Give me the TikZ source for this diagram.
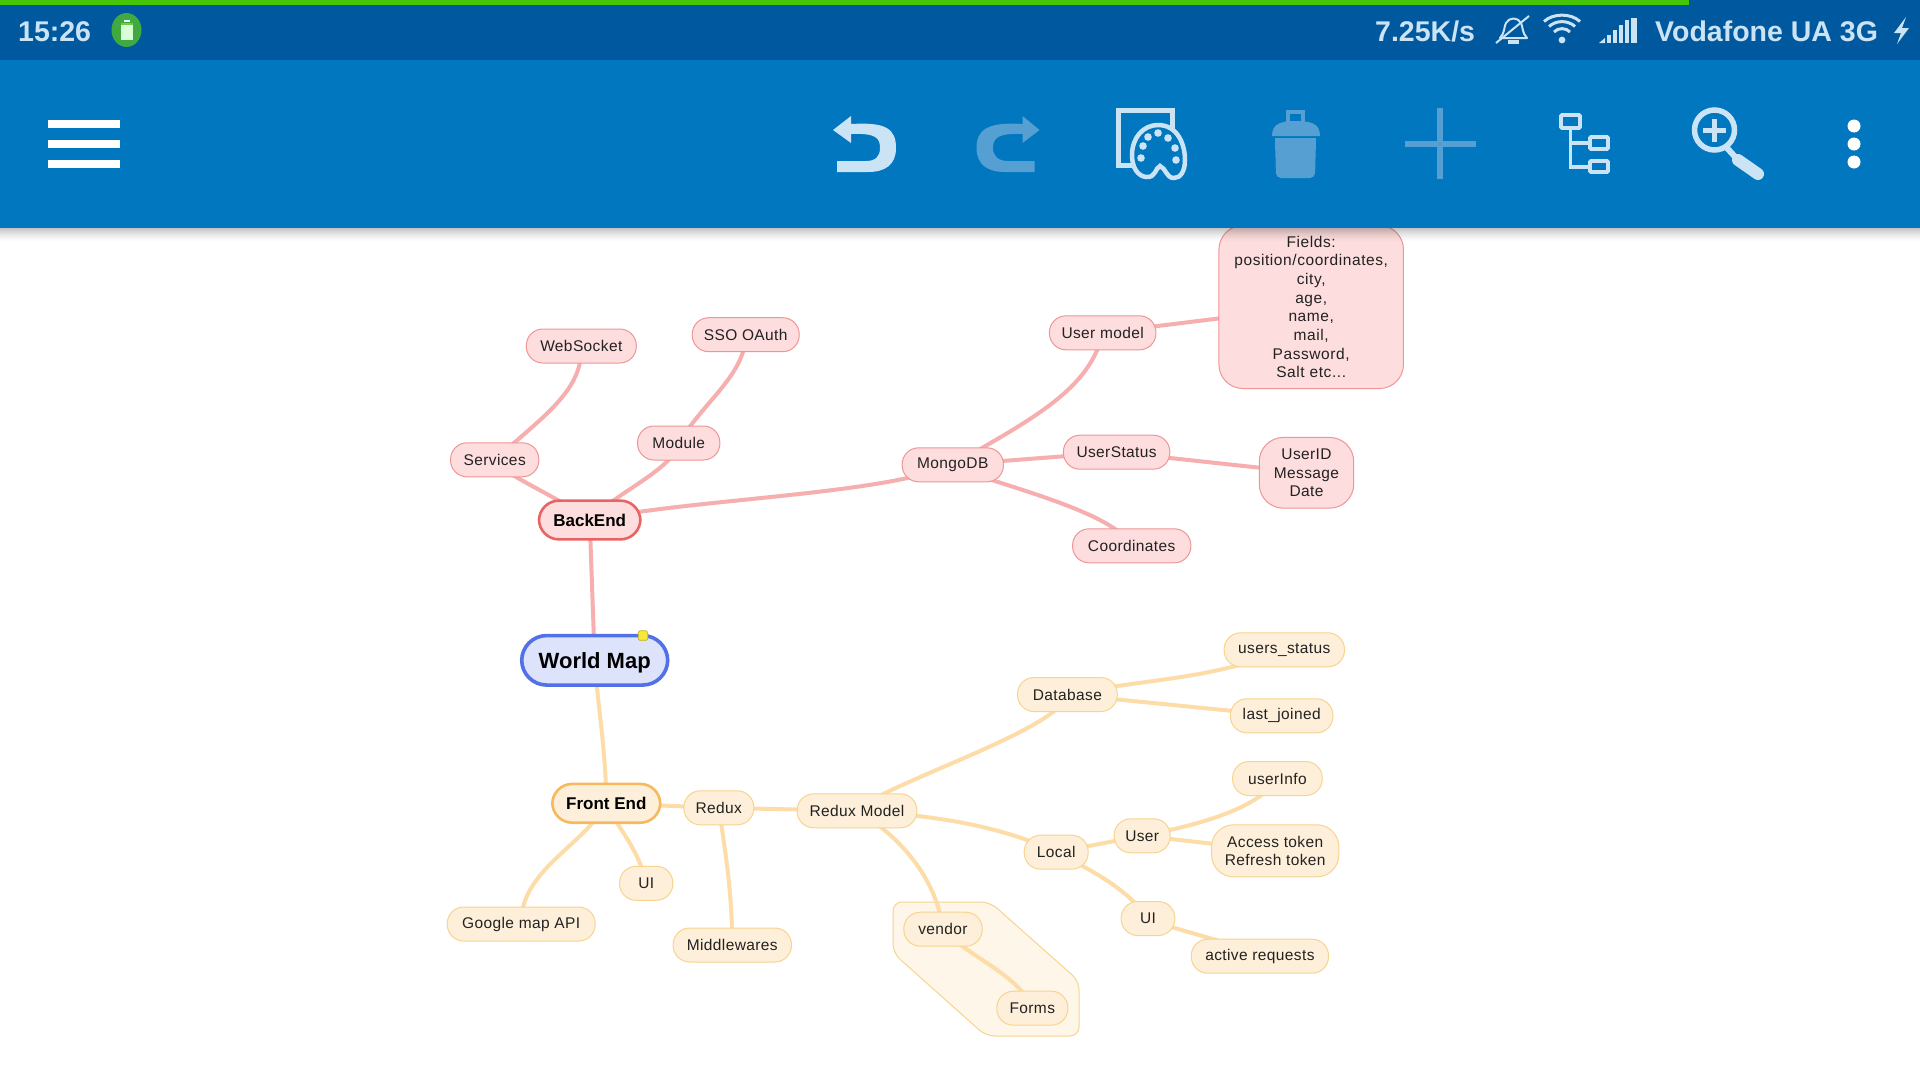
\documentclass[tikz,border=0pt]{standalone}
\usepackage{fontspec}
\setmainfont{Liberation Sans}
\pgfdeclarelayer{bg}
\pgfdeclarelayer{top}
\pgfsetlayers{bg,main,top}
\definecolor{pkfill}{HTML}{FDDDDD}
\definecolor{pkline}{HTML}{EE9696}
\definecolor{pkedge}{HTML}{F6AEAE}
\definecolor{pkbold}{HTML}{E86464}
\definecolor{orfill}{HTML}{FDEFD9}
\definecolor{orline}{HTML}{F8D48E}
\definecolor{oredge}{HTML}{FDDCA8}
\definecolor{orbold}{HTML}{F7B95E}
\definecolor{grfill}{HTML}{FEF6E8}
\definecolor{blfill}{HTML}{DCE3FB}
\definecolor{blbold}{HTML}{5271E8}
\definecolor{statusbar}{HTML}{00589E}
\definecolor{toolbar}{HTML}{0077BE}
\definecolor{iconlight}{HTML}{CBE4F5}
\definecolor{icondim}{HTML}{559FD3}
\definecolor{barfill}{HTML}{46C408}
\definecolor{handle}{HTML}{F7E83A}
\definecolor{handleline}{HTML}{C2B020}
\definecolor{ink}{HTML}{222222}
\tikzset{
  x=1pt,y=-1pt,
  pill/.style={draw,rounded corners=16.5pt,inner sep=0pt,outer sep=0pt,line width=1pt,text=ink,align=center,
     minimum height=34pt,font=\fontsize{15.5}{18.7}\selectfont\addfontfeature{LetterSpace=2.5}},
  pink/.style={pill,fill=pkfill,draw=pkline},
  orange/.style={pill,fill=orfill,draw=orline},
  pinkbold/.style={pink,draw=pkbold,line width=2.6pt,rounded corners=20pt,minimum height=38.8pt,font=\fontsize{17}{20}\bfseries\selectfont,text=black},
  orangebold/.style={orange,draw=orbold,line width=2.6pt,rounded corners=20pt,minimum height=38.8pt,font=\fontsize{17}{20}\bfseries\selectfont,text=black},
  pinkedge/.style={draw=pkedge,line width=4pt},
  orangeedge/.style={draw=oredge,line width=4pt},
  statustext/.style={inner sep=0pt,anchor=base west,text=iconlight,font=\fontsize{28.5}{32}\bfseries\selectfont},
}
\begin{document}
\begin{tikzpicture}
\useasboundingbox (0,0) rectangle (1920,1080);

% ---- root
\node[pill,fill=blfill,draw=blbold,line width=3.6pt,rounded corners=25pt,minimum width=146pt,minimum height=49.5pt,
      text depth=0pt,font=\fontsize{22}{26}\bfseries\selectfont,text=black] (wm) at (594.7,660.3) {World Map};
\node[fill=handle,draw=handleline,line width=.7pt,minimum size=9.5pt,inner sep=0pt,rounded corners=1.5pt] (hnd) at (643,635.5) {};

% ---- back end
\node[pinkbold,minimum width=101.4pt] (be) at (589.7,520) {BackEnd};
\node[pink,minimum width=110pt] (ws) at (581.3,346) {WebSocket};
\node[pink,minimum width=107pt] (sso) at (745.7,334.7) {SSO OAuth};
\node[pink,minimum width=88.3pt] (svc) at (494.7,459.8) {Services};
\node[pink,minimum width=82.3pt] (mod) at (678.7,443) {Module};
\node[pink,minimum width=101.3pt] (mdb) at (952.8,464.8) {MongoDB};
\node[pink,minimum width=106.5pt] (um) at (1102.7,332.8) {User model};
\node[pink,minimum width=106.4pt] (us) at (1116.6,452.2) {UserStatus};
\node[pink,minimum width=118.3pt] (crd) at (1131.7,545.8) {Coordinates};
\node[pink,minimum width=184.5pt,minimum height=163pt,rounded corners=24pt,
      font=\fontsize{15.5}{18.7}\selectfont\addfontfeature{LetterSpace=3.7}] (fld) at (1311.2,307)
  {Fields:\\position/coordinates,\\city,\\age,\\name,\\mail,\\Password,\\Salt etc...};
\node[pink,minimum width=94.4pt,minimum height=70.7pt,rounded corners=24pt] (uid) at (1306.5,472.8) {UserID\\Message\\Date};

% ---- front end
\node[orangebold,minimum width=108pt] (fe) at (606.3,803.3) {Front End};
\node[orange,minimum width=70pt] (rdx) at (718.8,807.8) {Redux};
\node[orange,minimum width=53.3pt] (uia) at (646.2,883.3) {UI};
\node[orange,minimum width=148pt] (gm) at (521.2,924) {Google map API};
\node[orange,minimum width=118.3pt] (mw) at (732.3,945) {Middlewares};
\node[orange,minimum width=119.7pt] (rm) at (857,810.8) {Redux Model};
\node[orange,minimum width=78.4pt] (ven) at (943,929.2) {vendor};
\node[orange,minimum width=71pt] (frm) at (1032.3,1008.2) {Forms};
\node[orange,minimum width=99.8pt] (db) at (1067.4,694.5) {Database};
\node[orange,minimum width=120.4pt] (ust) at (1284.3,649.8) {users\_status};
\node[orange,minimum width=102.6pt] (lj) at (1281.7,715.8) {last\_joined};
\node[orange,minimum width=89.7pt] (uin) at (1277.4,778.5) {userInfo};
\node[orange,minimum width=64pt] (lc) at (1056.2,852.2) {Local};
\node[orange,minimum width=56pt] (usr) at (1142.2,835.8) {User};
\node[orange,minimum width=127.3pt,minimum height=52pt,rounded corners=22pt] (acc) at (1275.2,850.8) {Access token\\Refresh token};
\node[orange,minimum width=53.6pt] (uib) at (1148,918.5) {UI};
\node[orange,minimum width=137.3pt] (act) at (1259.9,956.2) {active requests};

\begin{pgfonlayer}{bg}
  \fill[white] (0,0) rectangle (1920,1080);
  % group around vendor and Forms
  \draw[fill=grfill,draw=orline,line width=1pt,rounded corners=9pt]
     (893,902) -- (990,902) -- (1079,981) -- (1079,1036) -- (986,1036) -- (893,953) -- cycle;
  % pink connectors
  \draw[pinkedge] (be.center) -- (wm.center);
  \draw[pinkedge] (ws.center) .. controls (583,390) and (545,415) .. (svc.center);
  \draw[pinkedge] (svc.center) .. controls (500,473) and (555,495) .. (be.center);
  \draw[pinkedge] (sso.center) .. controls (745,375) and (705,400) .. (mod.center);
  \draw[pinkedge] (mod.center) .. controls (672,470) and (620,490) .. (be.center);
  \draw[pinkedge] (be.center) .. controls (700,498) and (880,495) .. (mdb.center);
  \draw[pinkedge] (mdb.center) .. controls (1030,420) and (1090,390) .. (um.center);
  \draw[pinkedge] (um.center) -- (fld.center);
  \draw[pinkedge] (mdb.center) -- (us.center);
  \draw[pinkedge] (us.center) -- (uid.center);
  \draw[pinkedge] (mdb.center) .. controls (975,480) and (1112,508) .. (crd.center);
  % orange connectors
  \draw[orangeedge] (wm.center) .. controls (597,700) and (606,750) .. (fe.center);
  \draw[orangeedge] (fe.center) -- (rdx.center);
  \draw[orangeedge] (rdx.center) -- (rm.center);
  \draw[orangeedge] (rdx.center) .. controls (725,850) and (732,890) .. (mw.center);
  \draw[orangeedge] (fe.center) .. controls (612,820) and (640,850) .. (uia.center);
  \draw[orangeedge] (fe.center) .. controls (585,845) and (520,870) .. (gm.center);
  \draw[orangeedge] (rm.center) .. controls (880,785) and (1060,730) .. (db.center);
  \draw[orangeedge] (db.center) .. controls (1150,678) and (1210,680) .. (ust.center);
  \draw[orangeedge] (db.center) -- (lj.center);
  \draw[orangeedge] (rm.center) .. controls (930,815) and (1000,825) .. (lc.center);
  \draw[orangeedge] (lc.center) -- (usr.center);
  \draw[orangeedge] (usr.center) .. controls (1170,830) and (1255,815) .. (uin.center);
  \draw[orangeedge] (usr.center) -- (acc.center);
  \draw[orangeedge] (lc.center) .. controls (1080,865) and (1125,885) .. (uib.center);
  \draw[orangeedge] (uib.center) .. controls (1180,932) and (1220,938) .. (act.center);
  \draw[orangeedge] (rm.center) .. controls (890,830) and (935,870) .. (ven.center);
  \draw[orangeedge] (ven.center) .. controls (965,955) and (1020,975) .. (frm.center);
\end{pgfonlayer}

\begin{pgfonlayer}{top}
  % shadow below the toolbar
  \foreach \i in {0,...,13}{
    \pgfmathsetmacro{\op}{0.24*(1-\i/14)^1.6}
    \fill[black,fill opacity=\op] (0,228+\i) rectangle (1920,229+\i);
  }
  % bars
  \fill[toolbar] (0,60) rectangle (1920,228);
  \fill[statusbar] (0,0) rectangle (1920,60);
  \fill[barfill] (0,0) rectangle (1689,5);

  % status bar
  \node[statustext] (clock) at (18,41.5) {15:26};
  \fill[green!55!black!75!white] (126.5,30) ellipse (15 and 17);
  \fill[white!85!green] (121,23) rectangle (132.5,40);
  \fill[barfill!80!white] (121,23) rectangle (132.5,25);
  \fill[white] (124,19.5) rectangle (129.5,21.5);
  \node[statustext] (speed) at (1375,41.5) {7.25K/s};
  \node[statustext] (carrier) at (1655,41.5) {Vodafone UA 3G};
  % bell
  \draw[iconlight,line width=2pt,line join=round] (1500,38) .. controls (1505,33) and (1504,26) .. (1506,23) .. controls (1509,17) and (1518,17) .. (1521,23) .. controls (1523,27) and (1522,33) .. (1527,38) -- cycle;
  \draw[iconlight,line width=2pt] (1496,43) -- (1529,16);
  \fill[iconlight] (1508,40) rectangle (1519,44);
  % wifi
  \fill[iconlight] (1562,40) circle (3.4);
  \draw[iconlight,line width=3pt] (1554,32) .. controls (1558,27.5) and (1566,27.5) .. (1570,32);
  \draw[iconlight,line width=3pt] (1549,26.5) .. controls (1556,20) and (1568,20) .. (1575,26.5);
  \draw[iconlight,line width=3pt] (1544,21.5) .. controls (1553,13) and (1571,13) .. (1580,21.5);
  % signal
  \fill[iconlight] (1599,43) -- (1605,38) -- (1605,43) -- cycle;
  \fill[iconlight] (1607,35) rectangle (1611,43);
  \fill[iconlight] (1613,30) rectangle (1617,43);
  \fill[iconlight] (1619,25) rectangle (1623,43);
  \fill[iconlight] (1625,20) rectangle (1629,43);
  \fill[iconlight] (1631,18) rectangle (1637,43);
  % bolt
  \fill[iconlight] (1906,17) -- (1894,33) -- (1901,33) -- (1897,44) -- (1909,28) -- (1902,28) -- cycle;

  % hamburger
  \foreach \yy in {120,140,160} \fill[white] (47.8,\yy) rectangle (120,\yy+8);
  % undo
  \fill[iconlight] (833,130) -- (851,116) -- (851,124) .. controls (885,122) and (896,128) .. (896,148)
      .. controls (896,165) and (885,172) .. (868,172) -- (837,172) -- (837,161) -- (866,161)
      .. controls (876,161) and (880,156) .. (880,148) .. controls (880,138) and (876,133) .. (851,134) -- (851,143) -- cycle;
  % redo
  \fill[icondim] (1039.6,130) -- (1022.5,116) -- (1022.5,124) .. controls (990,122) and (976.5,128) .. (976.5,148)
      .. controls (976.5,165) and (988,172) .. (1005,172) -- (1034.7,172) -- (1034.7,161) -- (1008,161)
      .. controls (998,161) and (993,156) .. (993,148) .. controls (993,138) and (998,133) .. (1022.5,134) -- (1022.5,143) -- cycle;
  % palette
  \draw[iconlight,line width=5pt] (1118.5,110.5) rectangle (1172,165.5);
  \draw[iconlight,fill=toolbar,line width=4.5pt] (1158,125) .. controls (1178,125) and (1185,145) .. (1185,160)
      .. controls (1185,172) and (1180,178) .. (1174,178) .. controls (1166,178) and (1166,168) .. (1160,166)
      .. controls (1155,168) and (1156,178) .. (1146,177) .. controls (1138,176) and (1132,168) .. (1132,155)
      .. controls (1132,138) and (1143,125) .. (1158,125) -- cycle;
  \foreach \cx/\cy in {1143/146,1148/137,1158/133,1168/138,1175/148,1176/160,1141/158}
     \fill[iconlight] (\cx,\cy) circle (3.8);
  % trash
  \draw[icondim,line width=3.5pt] (1288,122) -- (1288,112) -- (1303,112) -- (1303,122);
  \fill[icondim] (1272,136) .. controls (1272,124) and (1280,121) .. (1296,121) .. controls (1312,121) and (1320,124) .. (1320,136) -- cycle;
  \fill[icondim,rounded corners=5pt] (1275,138) -- (1316,138) -- (1315,178) -- (1276,178) -- cycle;
  \fill[icondim] (1275,138) rectangle (1316,150);
  % plus
  \fill[icondim] (1404.6,140.7) rectangle (1475.6,147.3);
  \fill[icondim] (1437,108) rectangle (1443,179);
  % tree
  \draw[iconlight,line width=3.6pt] (1570.5,129) -- (1570.5,167) -- (1590,167);
  \draw[iconlight,line width=3.6pt] (1570.5,143) -- (1590,143);
  \draw[iconlight,line width=3.6pt,rounded corners=1pt] (1561,115) rectangle (1580,128);
  \draw[iconlight,line width=3.6pt,rounded corners=1pt] (1590,137) rectangle (1608,149);
  \draw[iconlight,line width=3.6pt,rounded corners=1pt] (1590,161) rectangle (1608,172);
  % magnifier
  \draw[iconlight,line width=5.5pt] (1714.5,130) circle (20);
  \fill[iconlight] (1703,127.5) rectangle (1726,132.5);
  \fill[iconlight] (1712,118.5) rectangle (1717,141.5);
  \draw[iconlight,line width=12pt,line cap=round] (1738,160) -- (1758,174);
  \draw[iconlight,line width=6pt] (1727,148) -- (1738,160);
  % overflow dots
  \foreach \yy in {126,144,162} \fill[white] (1854,\yy) ellipse (6.5 and 6.5);
\end{pgfonlayer}
\end{tikzpicture}
\end{document}
